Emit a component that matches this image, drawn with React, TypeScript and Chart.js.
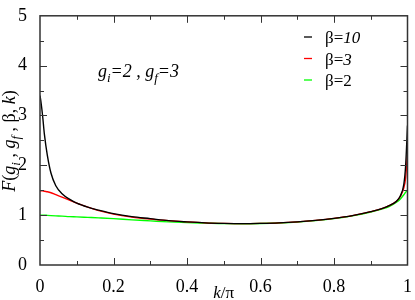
import React, { useEffect, useRef } from "react";
import { Chart, registerables } from "chart.js";

Chart.register(...registerables);

const kValues = [0, 0.003, 0.007, 0.012, 0.02, 0.03, 0.043, 0.06, 0.08, 0.1, 0.13, 0.16, 0.2, 0.25, 0.3, 0.35, 0.4, 0.45, 0.5, 0.55, 0.6, 0.65, 0.7, 0.75, 0.8, 0.85, 0.9, 0.93, 0.95, 0.97, 0.98, 0.99, 0.995, 1];
const beta10 = [3.4, 3.25, 3.0, 2.62, 2.2, 1.84, 1.59, 1.43, 1.32, 1.24, 1.16, 1.1, 1.03, 0.97, 0.93, 0.89, 0.865, 0.845, 0.835, 0.83, 0.835, 0.845, 0.865, 0.895, 0.935, 0.99, 1.07, 1.13, 1.19, 1.28, 1.38, 1.62, 2.0, 2.8];
const beta3 = [1.49, 1.49, 1.49, 1.48, 1.47, 1.45, 1.41, 1.36, 1.3, 1.24, 1.16, 1.09, 1.02, 0.96, 0.92, 0.89, 0.865, 0.845, 0.835, 0.83, 0.835, 0.845, 0.865, 0.895, 0.935, 0.99, 1.07, 1.13, 1.19, 1.28, 1.37, 1.55, 1.75, 2.25];
const beta2 = [1.0, 1.0, 1.0, 1.0, 0.995, 0.99, 0.985, 0.98, 0.97, 0.965, 0.955, 0.945, 0.93, 0.905, 0.885, 0.865, 0.85, 0.84, 0.83, 0.828, 0.832, 0.842, 0.86, 0.89, 0.93, 0.985, 1.06, 1.12, 1.17, 1.26, 1.32, 1.41, 1.46, 1.5];

const seriesLabels = ["10", "3", "2"];
const seriesColors = ["#000000", "#ff0000", "#00ff00"];
const seriesItalic = [true, true, false];

const xTickLabels = ["0", "0.2", "0.4", "0.6", "0.8", "1"];
const yTickLabels = ["0", "1", "2", "3", "4", "5"];

const SERIF = '"Liberation Serif", "Times New Roman", Times, serif';

type Part = { t: string; it?: boolean; sub?: boolean };

function drawRich(ctx: CanvasRenderingContext2D, x: number, y: number, parts: Part[], size: number, align: "left" | "center") {
  const fontOf = (p: Part) => `${p.it ? "italic " : "normal "}${p.sub ? Math.round(size * 0.7) : size}px ${SERIF}`;
  let total = 0;
  for (const p of parts) {
    ctx.font = fontOf(p);
    total += ctx.measureText(p.t).width;
  }
  let cx = align === "center" ? x - total / 2 : x;
  ctx.textBaseline = "alphabetic";
  ctx.textAlign = "left";
  for (const p of parts) {
    ctx.font = fontOf(p);
    ctx.fillText(p.t, cx, p.sub ? y + size * 0.3 : y);
    cx += ctx.measureText(p.t).width;
  }
}

const decorPlugin = {
  id: "decor",
  afterDraw(chart: any) {
    const ctx: CanvasRenderingContext2D = chart.ctx;
    const { left, right, top, bottom } = chart.chartArea;
    const xs = chart.scales.x;
    const ys = chart.scales.y;
    ctx.save();
    ctx.strokeStyle = "#333";
    ctx.lineWidth = 1.5;
    ctx.strokeRect(left, top, right - left, bottom - top);
    ctx.lineWidth = 1;
    ctx.beginPath();
    for (let i = 1; i < 10; i++) {
      const v = i / 10;
      const px = Math.round(xs.getPixelForValue(v)) + 0.5;
      const len = i % 2 === 0 ? 7 : 4;
      ctx.moveTo(px, bottom);
      ctx.lineTo(px, bottom - len);
      ctx.moveTo(px, top);
      ctx.lineTo(px, top + len);
    }
    for (let i = 1; i < 10; i++) {
      const v = i / 2;
      const py = Math.round(ys.getPixelForValue(v)) + 0.5;
      const len = i % 2 === 0 ? 7 : 4;
      ctx.moveTo(left, py);
      ctx.lineTo(left + len, py);
      ctx.moveTo(right, py);
      ctx.lineTo(right - len, py);
    }
    ctx.stroke();

    ctx.fillStyle = "#000";
    // x title
    drawRich(ctx, (left + right) / 2, 298, [{ t: "k", it: true }, { t: "/π" }], 17, "center");
    // y title
    ctx.save();
    ctx.translate(15, 141);
    ctx.rotate(-Math.PI / 2);
    drawRich(ctx, 0, 0, [
      { t: "F", it: true }, { t: "(" }, { t: "g", it: true }, { t: "i", it: true, sub: true },
      { t: " , " }, { t: "g", it: true }, { t: "f", it: true, sub: true }, { t: " , β, " },
      { t: "k", it: true }, { t: ")" },
    ], 18, "center");
    ctx.restore();
    // annotation
    drawRich(ctx, 98, 77, [
      { t: "g", it: true }, { t: "i", it: true, sub: true }, { t: "=2 , ", it: true },
      { t: "g", it: true }, { t: "f", it: true, sub: true }, { t: "=3", it: true },
    ], 18, "left");
    // legend
    const rows = [43, 64.5, 86];
    rows.forEach((ry, i) => {
      ctx.strokeStyle = seriesColors[i];
      ctx.lineWidth = 1.3;
      ctx.beginPath();
      ctx.moveTo(304, ry - 6);
      ctx.lineTo(312, ry - 6);
      ctx.stroke();
      drawRich(ctx, 325, ry, [{ t: "β=" }, { t: seriesLabels[i], it: seriesItalic[i] }], 17, "left");
    });
    ctx.restore();
  },
};

export default function App() {
  const ref = useRef<HTMLCanvasElement | null>(null);
  useEffect(() => {
    document.body.style.margin = "0";
    const series = [beta10, beta3, beta2];
    const chart = new Chart(ref.current as HTMLCanvasElement, {
      type: "line",
      data: {
        datasets: series.map((s, i) => ({
          label: "β=" + seriesLabels[i],
          data: kValues.map((k, j) => ({ x: k, y: s[j] })),
          borderColor: seriesColors[i],
          borderWidth: 1.4,
          pointRadius: 0,
          cubicInterpolationMode: "monotone" as const,
          fill: false,
        })),
      },
      options: {
        animation: false,
        responsive: false,
        maintainAspectRatio: false,
        layout: { padding: { top: 7, right: 4, left: 0, bottom: 0 } },
        plugins: { legend: { display: false }, tooltip: { enabled: false } },
        scales: {
          x: {
            type: "linear",
            min: 0,
            max: 1,
            grid: { display: false },
            border: { display: false },
            ticks: {
              stepSize: 0.2,
              maxRotation: 0,
              autoSkip: false,
              padding: 3,
              color: "#000",
              font: { family: SERIF, size: 18 },
              callback: (v: any) => xTickLabels[Math.round(Number(v) * 5)] ?? "",
            },
            afterFit: (s: any) => { s.height = 35; },
          },
          y: {
            min: 0,
            max: 5,
            grid: { display: false },
            border: { display: false },
            ticks: {
              stepSize: 1,
              padding: 5,
              color: "#000",
              font: { family: SERIF, size: 18 },
              callback: (v: any) => yTickLabels[Math.round(Number(v))] ?? "",
            },
            afterFit: (s: any) => { s.width = 40; },
          },
        },
      },
      plugins: [decorPlugin],
    });
    return () => chart.destroy();
  }, []);
  return (
    <div style={{ width: 415, height: 300 }}>
      <canvas ref={ref} width={415} height={300} style={{ width: 415, height: 300 }} />
    </div>
  );
}
